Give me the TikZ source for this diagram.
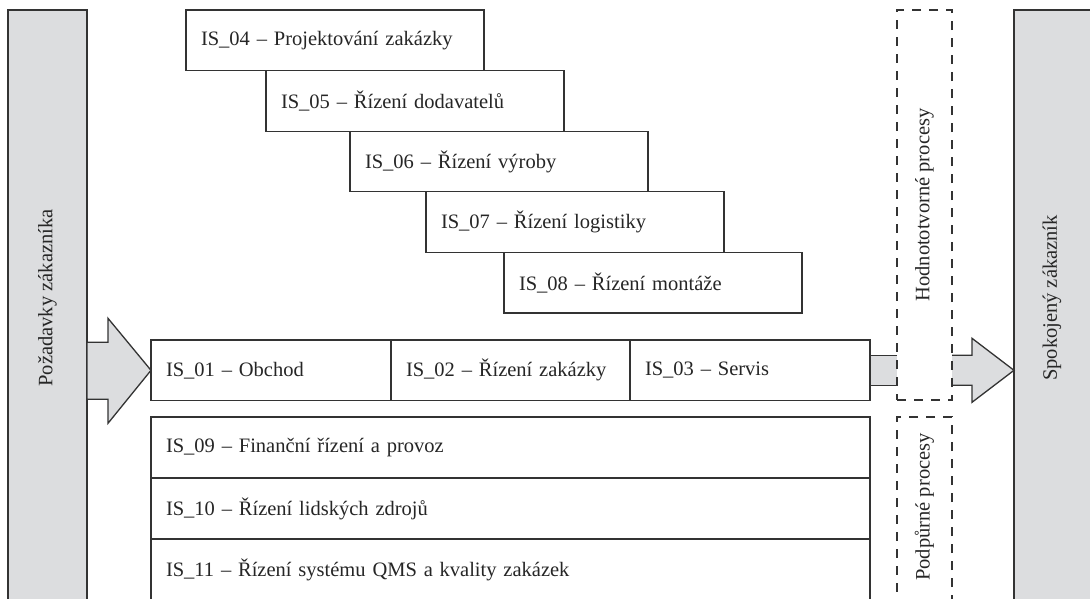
\documentclass[tikz,border=0pt]{standalone}
\usepackage{fontspec}
\setmainfont{Liberation Serif}
\usetikzlibrary{positioning,calc}

\definecolor{barfill}{HTML}{DCDDDF}
\definecolor{edgegray}{HTML}{333333}

\tikzset{
    isbox/.style={draw=edgegray, line width=1.3pt, fill=white, outer sep=0pt,
        minimum height=60.6pt, inner xsep=15pt, align=left, text=black!85,
        font=\fontsize{20.5}{24}\selectfont},
    graybar/.style={draw=edgegray, line width=1.3pt, fill=barfill, outer sep=0pt,
        minimum width=79pt, minimum height=640pt, anchor=north west},
    groupbox/.style={draw=edgegray, line width=1.3pt, dash pattern=on 9pt off 8pt,
        outer sep=0pt, minimum width=55pt, anchor=north west},
    sidetext/.style={rotate=90, text=black!85, font=\fontsize{20.5}{24}\selectfont},
    flowarrow/.style={draw=edgegray, line width=1.3pt, fill=barfill, line join=miter}
}

\begin{document}
\begin{tikzpicture}[x=1pt,y=-1pt]
    \clip (0,0) rectangle (1090,598);

    % zakaznik vlevo a vpravo
    \node[graybar] (req) at (8,10) {};
    \node[graybar] (sat) at (1014,10) {};
    \node[sidetext] (reqtext) at (47.5,298) {Požadavky zákazníka};
    \node[sidetext] (sattext) at (1052,298) {Spokojený zákazník};

    % hlavni procesy
    \node[isbox, text width=210pt, anchor=north west] (is01) at (151,340) {IS\_01 – Obchod};
    \node[isbox, text width=209pt, right=0pt of is01] (is02) {IS\_02 – Řízení zakázky};
    \node[isbox, text width=210pt, right=0pt of is02] (is03) {IS\_03 – Servis};

    % schody nahore
    \node[isbox, text width=268pt, anchor=north west] (is04) at (186,10) {IS\_04 – Projektování zakázky};
    \node[isbox, text width=268pt, anchor=north west] (is05) at ($(is04.south west)+(80,0)$) {IS\_05 – Řízení dodavatelů};
    \node[isbox, text width=268pt, anchor=north west] (is06) at ($(is05.south west)+(84,0)$) {IS\_06 – Řízení výroby};
    \node[isbox, text width=268pt, anchor=north west] (is07) at ($(is06.south west)+(76,0)$) {IS\_07 – Řízení logistiky};
    \node[isbox, text width=268pt, anchor=north west] (is08) at ($(is07.south west)+(78,0)$) {IS\_08 – Řízení montáže};

    % podpurne procesy
    \node[isbox, text width=689pt, minimum height=61pt, anchor=north west] (is09) at (151,417) {IS\_09 – Finanční řízení a provoz};
    \node[isbox, text width=689pt, minimum height=61pt, below=0pt of is09] (is10) {IS\_10 – Řízení lidských zdrojů};
    \node[isbox, text width=689pt, minimum height=61pt, below=0pt of is10] (is11) {IS\_11 – Řízení systému QMS a kvality zakázek};

    % sipky
    \draw[flowarrow] (req.east |- is01.west) ++(0,-28) -- ++(21,0) -- ++(0,-24)
        -- (is01.west) -- ++(-43,53) -- ++(0,-24) -- ++(-21,0) -- cycle;
    \draw[flowarrow] ($(is03.east)+(27,-15)$) -- ($(is03.east)+(0,-15)$)
        -- ($(is03.east)+(0,15)$) -- ($(is03.east)+(27,15)$);
    \draw[flowarrow] ($(is03.east)+(82,-15)$) -- ++(20,0) -- ++(0,-17)
        -- (sat.west |- is03.east) -- ++(-42,32) -- ++(0,-17) -- ++(-20,0);

    % skupiny
    \node[groupbox, minimum height=390pt] (val) at (897,10) {};
    \node[groupbox, minimum height=200pt] (podp) at (897,417) {};
    \node[sidetext] (valtext) at (val.center) {Hodnototvorné procesy};
    \node[sidetext] (podptext) at ($(podp.north)+(0,90)$) {Podpůrné procesy};
\end{tikzpicture}
\end{document}
